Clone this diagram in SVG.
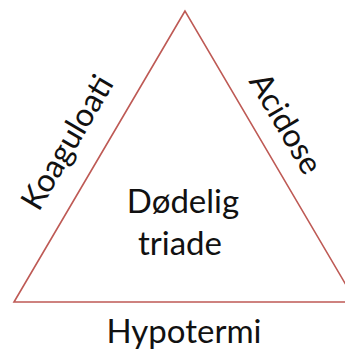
<svg xmlns="http://www.w3.org/2000/svg" width="345" height="351" viewBox="0 0 345 351">
<style>
.t{font-family:Lato,"Liberation Sans",sans-serif;fill:#111;text-anchor:middle}
.edge{fill:none;stroke:#BE5A55;stroke-width:1.6;stroke-linejoin:miter}
</style>
<rect width="345" height="351" fill="#fff"/>
<g id="connectors">
<path class="edge" d="M185,11 L14,302 L356,302 Z"/>
</g>
<g id="center">
<text class="t" x="183" y="213" font-size="33">Dødelig</text>
<text class="t" x="180" y="255" font-size="33">triade</text>
</g>
<g id="koagulopati">
<text class="t" font-size="32" transform="translate(76.6,148) rotate(-59.56)">Koaguloati</text>
</g>
<g id="acidose">
<text class="t" font-size="32" transform="translate(276.4,129) rotate(59.56)">Acidose</text>
</g>
<g id="hypotermi">
<text class="t" x="184" y="343" font-size="33">Hypotermi</text>
</g>
</svg>
